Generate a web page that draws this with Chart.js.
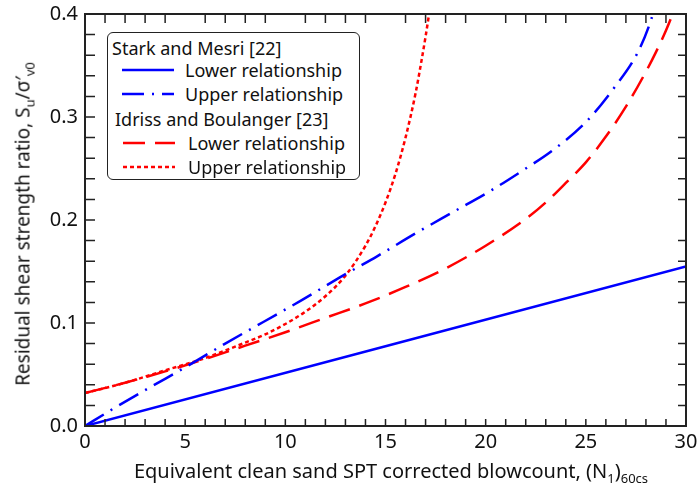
<!DOCTYPE html>
<html>
<head>
<meta charset="utf-8">
<script src="https://cdn.jsdelivr.net/npm/chart.js@4"></script>
<style>
  html, body { margin: 0; padding: 0; background: #fff; }
  #wrap { position: relative; width: 697px; height: 489px; font-family: "Noto Sans", sans-serif; color: #111; }
  #wrap canvas { position: absolute; left: 0; top: 0; }
  .lbl { position: absolute; white-space: nowrap; line-height: 1; }
  .lbl sub { font-size: 13px; vertical-align: -5px; }
  #ytitle { font-size: 19px; left: 25px; top: 224px; transform: translate(-50%, -50%) rotate(-90deg); }
  #xtitle { font-size: 20px; left: 391px; top: 473px; transform: translate(-50%, -50%); }
  #legend { position: absolute; left: 107px; top: 32px; width: 253px; height: 148px;
    border: 1.5px solid #222; border-radius: 6px; background: #fff; box-sizing: border-box; }
  .leg { position: absolute; white-space: nowrap; font-size: 18px; line-height: 1; transform: translateY(-50%); }
  .swatch { position: absolute; }
</style>
</head>
<body>
<div id="wrap">
  <canvas id="chart"></canvas>
  <div id="legend"></div>
  <div class="lbl" id="ytitle">Residual shear strength ratio, S<sub>u</sub>/σ′<sub>v0</sub></div>
  <div class="lbl" id="xtitle">Equivalent clean sand SPT corrected blowcount, (N<sub>1</sub>)<sub>60cs</sub></div>
</div>
<script>
// axis ticks
const xTicks = [0, 5, 10, 15, 20, 25, 30];
const yTicks = [0, 0.1, 0.2, 0.3, 0.4];

// Stark and Mesri [22]
const smLowerN = [0, 30];
const smLowerRatio = [0, 0.155];
const smUpperN = [0, 1.3, 3.2, 5.1, 7, 8.9, 10.8, 12.7, 14.6, 16.5, 18.4, 20.3, 22, 23.3, 25, 26.4, 27.6, 28.2, 28.5];
const smUpperRatio = [0, 0.0155, 0.037, 0.058, 0.08, 0.101, 0.122, 0.144, 0.165, 0.187, 0.208, 0.229, 0.25, 0.267, 0.295, 0.328, 0.363, 0.391, 0.41];

// Idriss and Boulanger [23]
const ibLowerN = [0, 2, 4, 6, 8, 10, 12, 14, 16, 18, 20, 22, 23, 24, 25, 26, 27, 28, 28.5, 29, 29.4];
const ibLowerRatio = [0.032, 0.042, 0.053, 0.065, 0.078, 0.091, 0.105, 0.119, 0.135, 0.153, 0.175, 0.201, 0.217, 0.236, 0.256, 0.281, 0.31, 0.344, 0.363, 0.384, 0.403];
const ibUpperN = [0, 2, 4, 6, 8, 9, 10, 11, 12, 13, 14, 14.5, 15, 15.5, 16, 16.5, 16.8, 17, 17.2];
const ibUpperRatio = [0.032, 0.042, 0.054, 0.066, 0.081, 0.089, 0.099, 0.111, 0.126, 0.146, 0.175, 0.194, 0.217, 0.245, 0.28, 0.323, 0.355, 0.378, 0.403];

const BLUE = "#0000ff";
const RED = "#ff0000";

const series = [
  { label: "Lower relationship", n: smLowerN, r: smLowerRatio, color: BLUE, dash: [] },
  { label: "Upper relationship", n: smUpperN, r: smUpperRatio, color: BLUE, dash: [22, 8, 2, 8] },
  { label: "Lower relationship", n: ibLowerN, r: ibLowerRatio, color: RED, dash: [22, 10] },
  { label: "Upper relationship", n: ibUpperN, r: ibUpperRatio, color: RED, dash: [4, 3] },
];

// legend (drawn as html so the group headings stay real text)
const legend = document.getElementById("legend");
const legendRows = [
  { head: "Stark and Mesri [22]", x: 4, y: 15 },
  { s: 0, x: 14, w: 52, tx: 77, y: 37 },
  { s: 1, x: 14, w: 52, tx: 77, y: 61 },
  { head: "Idriss and Boulanger [23]", x: 7, y: 86 },
  { s: 2, x: 15, w: 52, tx: 80, y: 110 },
  { s: 3, x: 15, w: 52, tx: 80, y: 134 },
];
legendRows.forEach((row) => {
  if (row.head) {
    const t = document.createElement("div");
    t.className = "leg";
    t.style.left = row.x + "px";
    t.style.top = row.y + "px";
    t.textContent = row.head;
    legend.appendChild(t);
    return;
  }
  const s = series[row.s];
  const svg = document.createElementNS("http://www.w3.org/2000/svg", "svg");
  svg.setAttribute("class", "swatch");
  svg.setAttribute("width", row.w);
  svg.setAttribute("height", 6);
  svg.style.left = row.x + "px";
  svg.style.top = row.y - 3 + "px";
  const ln = document.createElementNS("http://www.w3.org/2000/svg", "line");
  ln.setAttribute("x1", 0);
  ln.setAttribute("y1", 3);
  ln.setAttribute("x2", row.w);
  ln.setAttribute("y2", 3);
  ln.setAttribute("stroke", s.color);
  ln.setAttribute("stroke-width", 2.5);
  if (s.dash.length) ln.setAttribute("stroke-dasharray", s.dash.join(" "));
  svg.appendChild(ln);
  legend.appendChild(svg);
  const t = document.createElement("div");
  t.className = "leg";
  t.style.left = row.tx + "px";
  t.style.top = row.y + "px";
  t.textContent = s.label;
  legend.appendChild(t);
});

// inward ticks on all four sides + box frame
const frameTicks = {
  id: "frameTicks",
  afterDraw(chart) {
    const { ctx, chartArea: a, scales } = chart;
    const x = scales.x, y = scales.y;
    ctx.save();
    ctx.strokeStyle = "#222";
    ctx.lineWidth = 1.5;
    ctx.beginPath();
    for (let n = 0; n <= 30; n++) {
      const px = x.getPixelForValue(n);
      ctx.moveTo(px, a.bottom);
      ctx.lineTo(px, a.bottom - 7);
      if (n % 5 !== 0) {
        ctx.moveTo(px, a.top);
        ctx.lineTo(px, a.top + 9);
      }
    }
    for (let k = 0; k <= 20; k++) {
      const py = y.getPixelForValue(k * 0.02);
      ctx.moveTo(a.left, py);
      ctx.lineTo(a.left + 10, py);
      if (k % 5 !== 0) {
        ctx.moveTo(a.right, py);
        ctx.lineTo(a.right - 8, py);
      }
    }
    ctx.stroke();
    ctx.lineWidth = 2;
    ctx.strokeRect(a.left, a.top, a.right - a.left, a.bottom - a.top);
    ctx.restore();
  },
};

const tickFont = { family: "Noto Sans", size: 20 };

new Chart(document.getElementById("chart"), {
  type: "line",
  data: {
    datasets: series.map((s) => ({
      label: s.label,
      data: s.n.map((n, i) => ({ x: n, y: s.r[i] })),
      borderColor: s.color,
      borderWidth: 2.5,
      borderDash: s.dash,
      pointRadius: 0,
      fill: false,
      cubicInterpolationMode: "monotone",
    })),
  },
  options: {
    responsive: true,
    maintainAspectRatio: false,
    animation: false,
    layout: { padding: { top: 14, right: 11, left: 0, bottom: 0 } },
    plugins: { legend: { display: false }, tooltip: { enabled: false } },
    scales: {
      x: {
        type: "linear",
        min: 0,
        max: 30,
        grid: { display: false, drawTicks: false },
        border: { display: false },
        afterBuildTicks: (s) => { s.ticks = xTicks.map((v) => ({ value: v })); },
        afterFit: (s) => { s.height = 63; s.paddingLeft = 0; s.paddingRight = 0; },
        ticks: { font: tickFont, color: "#111", padding: 4, maxRotation: 0 },
      },
      y: {
        type: "linear",
        min: 0,
        max: 0.4,
        grid: { display: false, drawTicks: false },
        border: { display: false },
        afterBuildTicks: (s) => { s.ticks = yTicks.map((v) => ({ value: v })); },
        afterFit: (s) => { s.width = 85; s.paddingTop = 0; s.paddingBottom = 0; },
        ticks: {
          font: tickFont,
          color: "#111",
          padding: 7,
          callback: (v) => Number(v).toFixed(1),
        },
      },
    },
  },
  plugins: [frameTicks],
});
</script>
</body>
</html>
